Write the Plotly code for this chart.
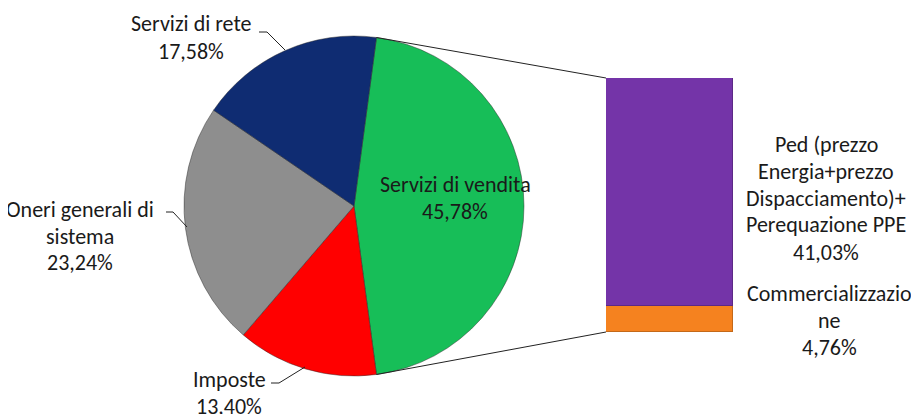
import math
import plotly.graph_objects as go

# ---- data ----
pie_labels = ["Servizi di vendita", "Imposte", "Oneri generali di<br>sistema", "Servizi di rete"]
pie_values = [45.78, 13.40, 23.24, 17.58]
bar_labels = ["Ped (prezzo<br>Energia+prezzo<br>Dispacciamento)+<br>Perequazione PPE",
              "Commercializzazio<br>ne"]
bar_values = [41.03, 4.76]
title_text = "Oggi"

def fmt(v):
    return f"{v:.2f}".replace(".", ",") + "%"

OFF = 8                 # page body margin of the html
W, H = 919 - OFF, 414 - OFF
FONT = "Carlito, Calibri, Lato, sans-serif"
FS = 22
LINE = 27

pie_colors = ["#17BE58", "#FF0000", "#8E8E8E", "#0F2C72"]
bar_colors = ["#7434A8", "#F5821F"]

# pie geometry (window pixels)
cx, cy, r = 354, 206, 170
rotation = 7.6

# bar geometry (window pixels)
bx0, bx1, by_top, by_bot = 606, 733, 78, 332

def px(x):
    return (x - OFF) / W

def py(y):
    return 1 - (y - OFF) / H

fig = go.Figure()
fig.add_trace(go.Pie(
    labels=[l.replace("<br>", " ") for l in pie_labels],
    values=pie_values,
    sort=False,
    direction="clockwise",
    rotation=rotation,
    marker=dict(colors=pie_colors, line=dict(color="rgba(40,40,40,0.45)", width=1)),
    textinfo="none",
    hoverinfo="label+percent",
    domain=dict(x=[px(cx - r), px(cx + r)], y=[py(cy + r), py(cy - r)]),
    showlegend=False,
))

# stacked bar: Commercializzazione at the bottom, Ped on top
for lab, val, col in list(zip(bar_labels, bar_values, bar_colors))[::-1]:
    fig.add_trace(go.Bar(
        x=["bar"], y=[val], name=lab.replace("<br>", " "),
        marker=dict(color=col, line=dict(color="rgba(0,0,0,0.2)", width=1)),
        showlegend=False, hoverinfo="name+y",
    ))

total = sum(bar_values)
fig.update_layout(
    width=W, height=H,
    margin=dict(l=0, r=0, t=0, b=0),
    paper_bgcolor="white", plot_bgcolor="rgba(0,0,0,0)",
    barmode="stack", bargap=0,
    xaxis=dict(domain=[px(bx0), px(bx1)], range=[-0.5, 0.5], visible=False, fixedrange=True),
    yaxis=dict(domain=[py(by_bot), py(by_top)], range=[0, total], visible=False, fixedrange=True),
    font=dict(family=FONT, size=FS, color="#1a1a1a"),
)

# connector lines from pie slice edges to the bar
a0 = math.radians(rotation)
a1 = math.radians(rotation + 360 * pie_values[0] / sum(pie_values))
p_top = (cx + r * math.sin(a0), cy - r * math.cos(a0))
p_bot = (cx + r * math.sin(a1), cy - r * math.cos(a1))
shapes = [
    dict(type="line", xref="paper", yref="paper", x0=px(p_top[0]), y0=py(p_top[1]),
         x1=px(bx0), y1=py(by_top), line=dict(color="#222", width=1)),
    dict(type="line", xref="paper", yref="paper", x0=px(p_bot[0]), y0=py(p_bot[1]),
         x1=px(bx0), y1=py(by_bot), line=dict(color="#222", width=1)),
]

# leader lines (elbow) for outside labels: (start, elbow, end) in pixels
leaders = [
    [(259, 32), (267, 32), (285, 50)],     # Servizi di rete
    [(166, 212), (173, 212), (187, 227)],  # Oneri
    [(271, 383), (279, 383), (305, 367)],  # Imposte
]
for pts in leaders:
    path = "M {} {} L {} {} L {} {}".format(px(pts[0][0]), py(pts[0][1]),
                                            px(pts[1][0]), py(pts[1][1]),
                                            px(pts[2][0]), py(pts[2][1]))
    shapes.append(dict(type="path", xref="paper", yref="paper", path=path,
                       line=dict(color="#222", width=1)))
fig.update_layout(shapes=shapes)

annotations = []

def add_label(text, x, y_first):
    for i, line in enumerate(text.split("<br>")):
        annotations.append(dict(text=line, x=px(x), y=py(y_first + i * LINE),
                                xref="paper", yref="paper", showarrow=False,
                                xanchor="center", yanchor="middle",
                                font=dict(family=FONT, size=FS, color="#1a1a1a")))

# first-line centre positions (window pixels)
pie_label_pos = [(455, 184), (229, 379), (80, 209), (191, 24)]
for lab, val, (x, y) in zip(pie_labels, pie_values, pie_label_pos):
    add_label(f"{lab}<br>{fmt(val)}", x, y)
bar_label_pos = [(826, 144), (829, 293)]
for lab, val, (x, y) in zip(bar_labels, bar_values, bar_label_pos):
    add_label(f"{lab}<br>{fmt(val)}", x, y)

# title, mostly cut off at the top edge
annotations.append(dict(text=f"<b>{title_text}</b>", x=px(368), y=py(6), xref="paper", yref="paper",
                        showarrow=False, xanchor="center", yanchor="bottom", borderpad=0,
                        font=dict(family=FONT, size=26, color="#111")))
fig.update_layout(annotations=annotations)

fig.write_html("out.html")
